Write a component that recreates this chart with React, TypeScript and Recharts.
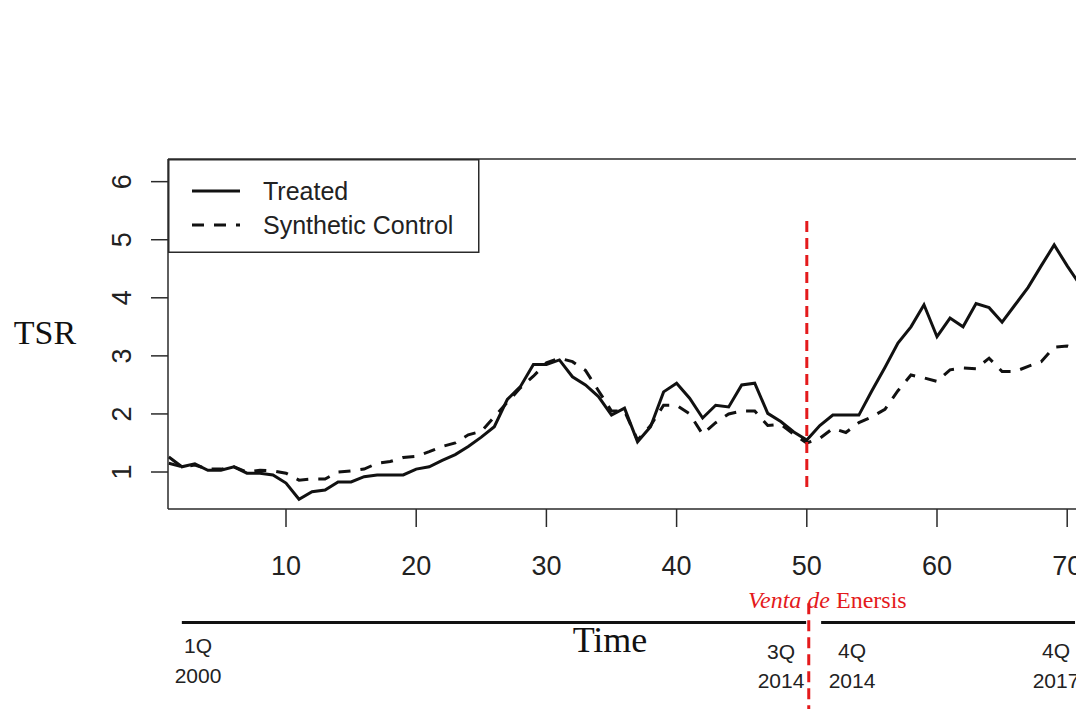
import React from "react";
import { LineChart, Line, XAxis, YAxis, ReferenceLine, Legend } from "recharts";

// TSR, quarterly index 1..72 (1Q2000 onwards)
const treated = [
  1.26, 1.09, 1.14, 1.03, 1.03, 1.09, 0.98, 0.98, 0.95, 0.81,
  0.53, 0.66, 0.69, 0.83, 0.83, 0.92, 0.95, 0.95, 0.95, 1.05,
  1.09, 1.2, 1.3, 1.44, 1.6, 1.78, 2.25, 2.47, 2.85, 2.85,
  2.93, 2.64, 2.5, 2.3, 1.98, 2.1, 1.52, 1.78, 2.38, 2.53,
  2.27, 1.93, 2.15, 2.12, 2.5, 2.53, 2.01, 1.87, 1.69, 1.55,
  1.8, 1.98, 1.98, 1.98, 2.4, 2.8, 3.22, 3.5, 3.88, 3.33,
  3.65, 3.5, 3.9, 3.83, 3.58, 3.88, 4.18, 4.55, 4.91, 4.55,
  4.22, 4.15,
];
const synthetic = [
  1.15, 1.09, 1.12, 1.05, 1.05, 1.09, 1.0, 1.03, 1.02, 0.98,
  0.86, 0.88, 0.88, 1.0, 1.02, 1.05, 1.15, 1.18, 1.25, 1.27,
  1.35, 1.44, 1.5, 1.64, 1.7, 1.95, 2.2, 2.45, 2.65, 2.88,
  2.96, 2.9, 2.75, 2.4, 2.05, 2.05, 1.55, 1.8, 2.15, 2.15,
  2.0, 1.65, 1.85, 2.0, 2.05, 2.05, 1.8, 1.82, 1.65, 1.5,
  1.58, 1.75, 1.68, 1.85, 1.95, 2.08, 2.4, 2.67, 2.62, 2.56,
  2.76, 2.79, 2.78, 2.96, 2.73, 2.73, 2.82, 2.9, 3.15, 3.17,
  3.1, 3.05,
];
const xTicks = [10, 20, 30, 40, 50, 60, 70];
const yTicks = [1, 2, 3, 4, 5, 6];
const seriesNames = ["Treated", "Synthetic Control"];
const treatmentTime = 50;
const X_DOMAIN: [number, number] = [0.937, 71.29];
const Y_DOMAIN: [number, number] = [0.363, 6.39];

const periodLabels = [
  { q: "1Q", y: "2000", cx: 198, b1: 653, b2: 683 },
  { q: "3Q", y: "2014", cx: 781, b1: 659, b2: 688 },
  { q: "4Q", y: "2014", cx: 852, b1: 658, b2: 688 },
  { q: "4Q", y: "2017", cx: 1056, b1: 658, b2: 688 },
];

const data = treated.map((v, i) => ({ t: i + 1, treated: v, synthetic: synthetic[i] }));

const SANS = '"Liberation Sans", Arial, sans-serif';
const SERIF = '"Liberation Serif", "Times New Roman", serif';
const AXIS = "#2a2a2a";
const RED = "#e41a1c";

const XTick = (props: any) => {
  const { x, y, payload } = props;
  return (
    <text x={x} y={y + 48} textAnchor="middle" fontSize={27} fontFamily={SANS} fill="#222">
      {payload.value}
    </text>
  );
};

const YTick = (props: any) => {
  const { y, payload } = props;
  const bx = 131.5;
  return (
    <text
      x={bx}
      y={y}
      transform={`rotate(-90, ${bx}, ${y})`}
      textAnchor="middle"
      fontSize={27}
      fontFamily={SANS}
      fill="#222"
    >
      {payload.value}
    </text>
  );
};

const LegendBox = () => (
  <svg width={312} height={94} style={{ display: "block" }}>
    <rect x={0.75} y={0.75} width={310} height={92.5} fill="#fff" stroke={AXIS} strokeWidth={1.5} />
    <line x1={24} y1={32} x2={72} y2={32} stroke="#111" strokeWidth={3} />
    <line x1={24} y1={66} x2={72} y2={66} stroke="#111" strokeWidth={3} strokeDasharray="12 10" />
    <text x={95} y={41} fontSize={25} fontFamily={SANS} fill="#222">{seriesNames[0]}</text>
    <text x={95} y={75} fontSize={25} fontFamily={SANS} fill="#222">{seriesNames[1]}</text>
  </svg>
);

export default function App() {
  return (
    <div
      style={{
        position: "relative",
        width: 1084,
        height: 709,
        marginLeft: -8,
        marginTop: -8,
        overflow: "hidden",
        background: "#fff",
      }}
    >
      <LineChart
        width={1084}
        height={709}
        data={data}
        margin={{ top: 159, right: 0, bottom: 140, left: 108 }}
      >
        <XAxis
          dataKey="t"
          type="number"
          domain={X_DOMAIN}
          allowDataOverflow
          ticks={xTicks}
          interval={0}
          height={60}
          tickSize={18}
          tickMargin={0}
          tick={<XTick />}
          axisLine={{ stroke: AXIS, strokeWidth: 1.5 }}
          tickLine={{ stroke: AXIS, strokeWidth: 1.5 }}
        />
        <YAxis
          type="number"
          domain={Y_DOMAIN}
          allowDataOverflow
          ticks={yTicks}
          interval={0}
          width={60}
          tickSize={17}
          tickMargin={0}
          tick={<YTick />}
          axisLine={{ stroke: AXIS, strokeWidth: 1.5 }}
          tickLine={{ stroke: AXIS, strokeWidth: 1.5 }}
        />
        <ReferenceLine y={Y_DOMAIN[1]} stroke={AXIS} strokeWidth={1.5} ifOverflow="visible" />
        <Line
          type="linear"
          dataKey="synthetic"
          name={seriesNames[1]}
          stroke="#111"
          strokeWidth={3}
          strokeDasharray="12 10"
          dot={false}
          isAnimationActive={false}
        />
        <Line
          type="linear"
          dataKey="treated"
          name={seriesNames[0]}
          stroke="#111"
          strokeWidth={3}
          dot={false}
          isAnimationActive={false}
        />
        <ReferenceLine
          segment={[{ x: treatmentTime, y: 0.74 }, { x: treatmentTime, y: 5.4 }]}
          stroke={RED}
          strokeWidth={3}
          strokeDasharray="11 6"
          ifOverflow="visible"
        />
        <ReferenceLine
          segment={[{ x: treatmentTime + 0.15, y: -1.26 }, { x: treatmentTime + 0.15, y: -3.3 }]}
          stroke={RED}
          strokeWidth={3}
          strokeDasharray="11 6"
          ifOverflow="visible"
        />
        <ReferenceLine
          segment={[{ x: 2.0, y: -1.592 }, { x: 49.95, y: -1.592 }]}
          stroke="#111"
          strokeWidth={3}
          ifOverflow="visible"
        />
        <ReferenceLine
          segment={[{ x: 51.1, y: -1.592 }, { x: 70.6, y: -1.592 }]}
          stroke="#111"
          strokeWidth={3}
          ifOverflow="visible"
        />
        <Legend
          layout="horizontal"
          verticalAlign="middle"
          align="center"
          wrapperStyle={{ left: 168, top: 159, width: 312, height: 94 }}
          content={() => <LegendBox />}
        />
      </LineChart>
      <svg
        width={1084}
        height={709}
        style={{ position: "absolute", left: 0, top: 0, pointerEvents: "none" }}
      >
        <text x={45} y={344} textAnchor="middle" fontSize={34} fontFamily={SERIF} fill="#111">TSR</text>
        <text x={610} y={652} textAnchor="middle" fontSize={36} fontFamily={SERIF} fill="#111">Time</text>
        <text x={748} y={608} fontSize={24} fontFamily={SERIF} fill={RED}>
          <tspan fontStyle="italic">Venta de</tspan>
          <tspan> Enersis</tspan>
        </text>
        {periodLabels.map((p, i) => (
          <g key={i}>
            <text x={p.cx} y={p.b1} textAnchor="middle" fontSize={21} fontFamily={SANS} fill="#222">{p.q}</text>
            <text x={p.cx} y={p.b2} textAnchor="middle" fontSize={21} fontFamily={SANS} fill="#222">{p.y}</text>
          </g>
        ))}
      </svg>
    </div>
  );
}
